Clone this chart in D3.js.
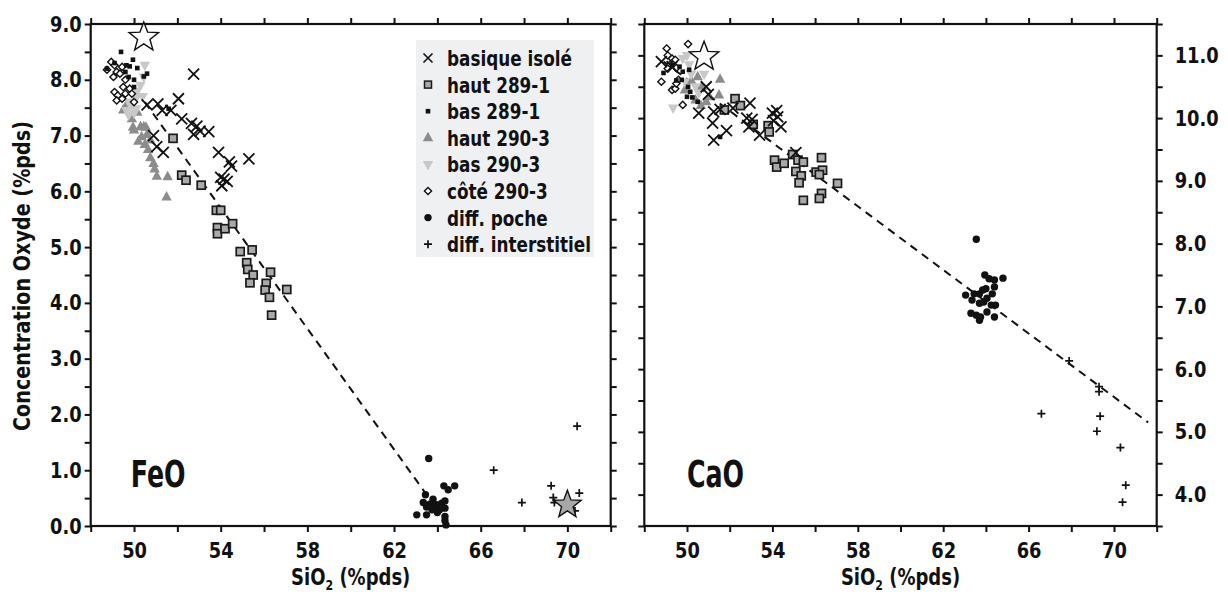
<!DOCTYPE html>
<html><head><meta charset="utf-8">
<script src="https://cdn.jsdelivr.net/npm/d3@7"></script>
<style>
html,body{margin:0;padding:0;background:#fff;}
svg text{font-family:'DejaVu Sans Condensed','DejaVu Sans','Liberation Sans',sans-serif;font-weight:bold;fill:#111;}
</style></head>
<body><svg id="c" width="1228" height="595"></svg>
<script>
// ---------- DATA ----------
const xTickValues = [48,50,52,54,56,58,60,62,64,66,68,70,72];
const xTickLabels = [50,54,58,62,66,70];
const feoTickLabels = [0,1,2,3,4,5,6,7,8,9];
const caoTickLabels = [4,5,6,7,8,9,10,11];
const legendLabels = ["basique isolé","haut 289-1","bas 289-1","haut 290-3","bas 290-3","côté 290-3","diff. poche","diff. interstitiel"];

// FeO vs SiO2
const feoBasique = [[50.6,7.55],[51.1,7.57],[51.3,7.45],[51.7,7.45],[52.05,7.66],[52.2,7.3],[52.75,8.1],[52.65,7.22],[52.9,7.17],[52.75,7.02],[53.05,7.08],[53.45,7.07],[50.9,7.0],[51.05,6.8],[51.35,6.7],[53.9,6.7],[54.4,6.53],[54.5,6.45],[55.3,6.58],[54.05,6.1],[54.15,6.22],[54.3,6.18],[54.0,6.25]];
const feoHaut2891 = [[51.8,6.95],[52.2,6.29],[52.4,6.2],[53.1,6.11],[53.8,5.66],[54.0,5.66],[53.85,5.35],[53.85,5.24],[54.2,5.33],[54.55,5.42],[54.9,4.92],[55.45,4.95],[55.2,4.72],[55.25,4.6],[55.5,4.5],[55.35,4.36],[56.3,4.55],[56.1,4.35],[56.05,4.23],[56.25,4.1],[57.05,4.24],[56.35,3.78]];
const feoBas2891 = [[49.4,8.5],[49.95,8.36],[50.15,8.21],[50.6,8.11],[50.45,8.06],[49.6,8.14],[49.75,8.05],[50.0,8.0],[50.0,7.87],[49.65,8.26],[48.75,8.2],[49.1,8.3],[51.6,7.48],[49.8,8.24]];
const feoHaut2903 = [[49.5,7.46],[49.9,7.3],[50.0,7.1],[50.15,7.42],[50.3,7.16],[50.45,7.16],[50.6,7.02],[50.35,6.98],[50.2,6.9],[50.5,6.84],[50.65,6.75],[50.75,6.92],[50.75,6.6],[50.9,6.5],[50.95,6.4],[51.05,6.27],[51.55,6.26],[51.5,5.9],[49.95,7.15],[50.55,7.15],[49.65,7.55]];
const feoBas2903 = [[50.5,8.26],[50.45,8.05],[50.3,7.9],[50.15,7.8],[50.4,7.7],[50.1,7.68],[49.75,7.6],[49.9,7.54],[50.1,7.48],[49.65,7.45],[50.0,7.4],[49.75,7.37]];
const feoCote2903 = [[48.95,8.32],[49.1,8.26],[49.2,8.14],[49.05,8.05],[49.35,8.11],[49.45,8.23],[49.6,8.0],[49.5,7.87],[49.8,7.84],[49.1,7.78],[49.25,7.72],[49.2,7.63],[49.45,7.66],[49.6,7.75],[49.9,7.75],[50.0,7.6],[48.75,8.18]];
const feoPoche = [[63.6,1.21],[64.3,0.72],[64.5,0.65],[64.8,0.72],[63.45,0.56],[63.8,0.48],[63.35,0.42],[63.65,0.39],[63.95,0.38],[64.2,0.41],[64.35,0.45],[64.35,0.32],[63.5,0.34],[63.75,0.29],[64.0,0.24],[64.1,0.29],[63.05,0.2],[63.5,0.2],[64.35,0.17],[64.35,0.1],[64.4,0.02],[63.9,0.33]];
const feoInterstitiel = [[70.45,1.79],[66.6,1.0],[69.25,0.72],[70.55,0.59],[69.35,0.51],[69.4,0.42],[67.9,0.42],[70.35,0.27]];
const feoTrend = [[50.5,7.6],[63.8,0.4]];
const feoStars = [[50.45,8.76,"open"],[70.0,0.38,"gray"]];

// CaO vs SiO2
const caoBasique = [[48.8,10.9],[49.3,10.82],[50.9,10.5],[51.0,10.38],[50.55,10.08],[51.25,10.1],[51.2,9.92],[51.25,9.65],[51.85,9.8],[51.55,10.14],[52.15,10.16],[52.95,10.24],[52.8,10.0],[52.9,9.86],[53.4,9.73],[54.0,10.08],[54.2,10.12],[54.25,10.02],[54.05,9.96],[54.4,9.86],[55.1,9.45],[53.05,9.98]];
const caoHaut2891 = [[51.75,10.13],[52.25,10.31],[52.5,10.2],[53.1,9.9],[53.8,9.88],[53.85,9.78],[54.1,9.33],[54.2,9.22],[54.55,9.28],[54.95,9.42],[55.2,9.33],[55.45,9.3],[55.1,9.15],[55.35,9.08],[55.25,8.97],[56.3,9.37],[56.05,9.14],[56.35,9.17],[56.2,9.1],[57.05,8.96],[55.45,8.69],[56.3,8.8],[56.2,8.72]];
const caoBas2891 = [[48.9,10.72],[49.3,10.85],[49.65,10.82],[49.8,10.74],[50.1,10.77],[49.75,10.61],[50.05,10.5],[50.15,10.42],[50.0,10.34],[50.25,10.33],[50.5,10.26],[51.55,9.7],[49.5,10.6]];
const caoHaut2903 = [[51.55,10.62],[51.5,10.37],[50.4,10.29],[50.9,10.26],[51.05,10.34],[50.5,10.66],[50.2,10.6],[50.7,10.5],[49.9,10.45],[50.65,10.2]];
const caoBas2903 = [[49.35,10.16],[50.0,11.0],[49.8,10.95],[50.1,10.85],[49.9,10.58],[50.4,10.5],[50.2,10.7],[50.55,10.4],[50.8,10.7]];
const caoCote2903 = [[49.05,11.11],[50.05,11.18],[49.1,11.0],[49.3,10.95],[49.45,10.93],[49.2,10.85],[49.1,10.79],[48.8,10.58],[49.3,10.45],[49.45,10.47],[49.6,10.61],[49.5,10.55],[49.8,10.21],[49.5,10.8]];
const caoPoche = [[63.55,8.07],[63.95,7.5],[64.15,7.44],[64.4,7.42],[64.8,7.45],[64.4,7.31],[64.0,7.28],[63.85,7.26],[63.05,7.18],[63.45,7.2],[63.7,7.2],[64.3,7.2],[64.05,7.13],[63.35,7.1],[63.7,7.05],[63.9,7.07],[64.25,7.02],[64.45,7.02],[63.3,6.89],[63.55,6.86],[63.75,6.83],[63.7,6.78],[64.4,6.83],[64.05,6.91]];
const caoInterstitiel = [[67.9,6.13],[69.3,5.72],[69.3,5.64],[66.6,5.29],[69.35,5.25],[69.2,5.01],[70.3,4.75],[70.55,4.15],[70.4,3.88]];
const caoTrend = [[48.9,10.9],[71.6,5.15]];
const caoStars = [[50.8,10.98,"open"]];

// ---------- DRAW ----------
const svg = d3.select("#c");
const FS = 22;

function squeeze(sel, ratio){
  sel.each(function(){
    const L = this.getComputedTextLength();
    if(L>0){ this.setAttribute("textLength", (L*ratio).toFixed(1)); this.setAttribute("lengthAdjust","spacingAndGlyphs"); }
  });
}

function starPath(r){
  const pts=[];
  for(let i=0;i<10;i++){
    const rr = i%2===0 ? r : r*0.42;
    const a = -Math.PI/2 + i*Math.PI/5;
    pts.push([rr*Math.cos(a), rr*Math.sin(a)]);
  }
  return "M"+pts.map(p=>p[0].toFixed(2)+","+p[1].toFixed(2)).join("L")+"Z";
}

const markers = {
  basique: g => g.append("path").attr("d","M-5.5,-5.5L5.5,5.5M-5.5,5.5L5.5,-5.5").attr("stroke","#111").attr("stroke-width",1.8).attr("fill","none"),
  haut2891: g => g.append("rect").attr("x",-4).attr("y",-4).attr("width",8).attr("height",8).attr("fill","#a9a9a9").attr("stroke","#1a1a1a").attr("stroke-width",1.7),
  bas2891: g => g.append("rect").attr("x",-2.3).attr("y",-2.3).attr("width",4.6).attr("height",4.6).attr("fill","#111"),
  haut2903: g => g.append("path").attr("d","M0,-6L5.2,3.5L-5.2,3.5Z").attr("fill","#8c8c8c"),
  bas2903: g => g.append("path").attr("d","M0,6L5.2,-3.5L-5.2,-3.5Z").attr("fill","#c8c8c8"),
  cote2903: g => g.append("path").attr("d","M0,-3.6L3.6,0L0,3.6L-3.6,0Z").attr("fill","#fff").attr("stroke","#111").attr("stroke-width",1.4),
  poche: g => g.append("circle").attr("r",3.7).attr("fill","#111"),
  interstitiel: g => g.append("path").attr("d","M-4,0L4,0M0,-4L0,4").attr("stroke","#111").attr("stroke-width",1.7).attr("fill","none")
};
const legendKeys = ["basique","haut2891","bas2891","haut2903","bas2903","cote2903","poche","interstitiel"];

function panel(cfg){
  const x = d3.scaleLinear().domain([48,72]).range([cfg.x0,cfg.x1]);
  const y = d3.scaleLinear().domain(cfg.yDomain).range([526,24]);
  const g = svg.append("g");
  const yTicks = d3.range(cfg.yDomain[0], cfg.yDomain[1]+0.001, 0.5);
  const fmtX = d => xTickLabels.includes(d) ? String(d) : "";
  const fmtY = d => cfg.labels.includes(d) ? d.toFixed(1) : "";

  const ax = [
    g.append("g").attr("transform","translate(0,526)").call(d3.axisBottom(x).tickValues(xTickValues).tickFormat(fmtX).tickSize(6).tickPadding(10)),
    g.append("g").attr("transform","translate(0,24)").call(d3.axisTop(x).tickValues(xTickValues).tickFormat("").tickSize(6)),
    g.append("g").attr("transform",`translate(${cfg.x0},0)`).call(d3.axisLeft(y).tickValues(yTicks).tickFormat(cfg.side==="left"?fmtY:"").tickSize(6).tickPadding(3)),
    g.append("g").attr("transform",`translate(${cfg.x1},0)`).call(d3.axisRight(y).tickValues(yTicks).tickFormat(cfg.side==="right"?fmtY:"").tickSize(6).tickPadding(12))
  ];
  ax.forEach(a=>{
    a.select(".domain").remove();
    a.selectAll(".tick line").attr("stroke","#111").attr("stroke-width",2);
    a.selectAll(".tick text").style("font-size",FS+"px").attr("fill","#111");
    squeeze(a.selectAll(".tick text"), 0.9);
  });
  g.append("rect").attr("x",cfg.x0).attr("y",24).attr("width",cfg.x1-cfg.x0).attr("height",502)
    .attr("fill","none").attr("stroke","#111").attr("stroke-width",2.2);

  g.append("path").datum(cfg.trend)
    .attr("d", d3.line().x(d=>x(d[0])).y(d=>y(d[1])))
    .attr("fill","none").attr("stroke","#111").attr("stroke-width",2).attr("stroke-dasharray","8,6");

  const order = ["haut2903","bas2903","cote2903","bas2891","haut2891","basique","poche","interstitiel"];
  order.forEach(k=>{
    cfg.series[k].forEach(d=>{
      const m = g.append("g").attr("transform",`translate(${x(d[0])},${y(d[1])})`);
      markers[k](m);
    });
  });

  cfg.stars.forEach(s=>{
    g.append("path").attr("d",starPath(s[2]==="open"?15.5:14.5))
      .attr("transform",`translate(${x(s[0])},${y(s[1])})`)
      .attr("fill",s[2]==="open"?"#fff":"#a8a8a8").attr("stroke","#111").attr("stroke-width",1.4);
  });

  const tt = g.append("text").attr("x",x(cfg.titleX)).attr("y",487).style("font-size","37px").text(cfg.title);
  squeeze(tt, 0.76);

  const xt = g.append("g").attr("transform",`translate(${(cfg.x0+cfg.x1)/2},585) scale(0.87,1)`)
    .append("text").attr("text-anchor","middle").style("font-size","23px");
  xt.append("tspan").text("SiO");
  xt.append("tspan").attr("dy",5).style("font-size","14px").text("2");
  xt.append("tspan").attr("dy",-5).text(" (%pds)");
}

panel({x0:90.7,x1:610.7,yDomain:[0,9],labels:feoTickLabels,side:"left",trend:feoTrend,stars:feoStars,title:"FeO",titleX:49.85,
  series:{basique:feoBasique,haut2891:feoHaut2891,bas2891:feoBas2891,haut2903:feoHaut2903,bas2903:feoBas2903,cote2903:feoCote2903,poche:feoPoche,interstitiel:feoInterstitiel}});
panel({x0:644.3,x1:1156.7,yDomain:[3.5,11.5],labels:caoTickLabels,side:"right",trend:caoTrend,stars:caoStars,title:"CaO",titleX:50.0,
  series:{basique:caoBasique,haut2891:caoHaut2891,bas2891:caoBas2891,haut2903:caoHaut2903,bas2903:caoBas2903,cote2903:caoCote2903,poche:caoPoche,interstitiel:caoInterstitiel}});

const yt = svg.append("text").attr("transform","translate(30,276) rotate(-90)").attr("text-anchor","middle").style("font-size","23px").text("Concentration Oxyde (%pds)");
squeeze(yt, 310/yt.node().getComputedTextLength());

const lg = svg.append("g");
lg.append("rect").attr("x",416).attr("y",40).attr("width",178).attr("height",217).attr("fill","#eff0f2");
legendLabels.forEach((t,i)=>{
  const cy = 58 + i*26.6;
  const m = lg.append("g").attr("transform",`translate(428,${cy})`);
  if(legendKeys[i]==="basique") m.append("path").attr("d","M-4.5,-4.5L4.5,4.5M-4.5,4.5L4.5,-4.5").attr("stroke","#111").attr("stroke-width",1.6);
  else if(legendKeys[i]==="haut2891") m.append("rect").attr("x",-3.5).attr("y",-3.5).attr("width",7).attr("height",7).attr("fill","#a9a9a9").attr("stroke","#1a1a1a").attr("stroke-width",1.5);
  else markers[legendKeys[i]](m);
  const tx = lg.append("text").attr("x",447).attr("y",cy+8).style("font-size",FS+"px").text(t);
  squeeze(tx, 0.85);
});
</script></body></html>
